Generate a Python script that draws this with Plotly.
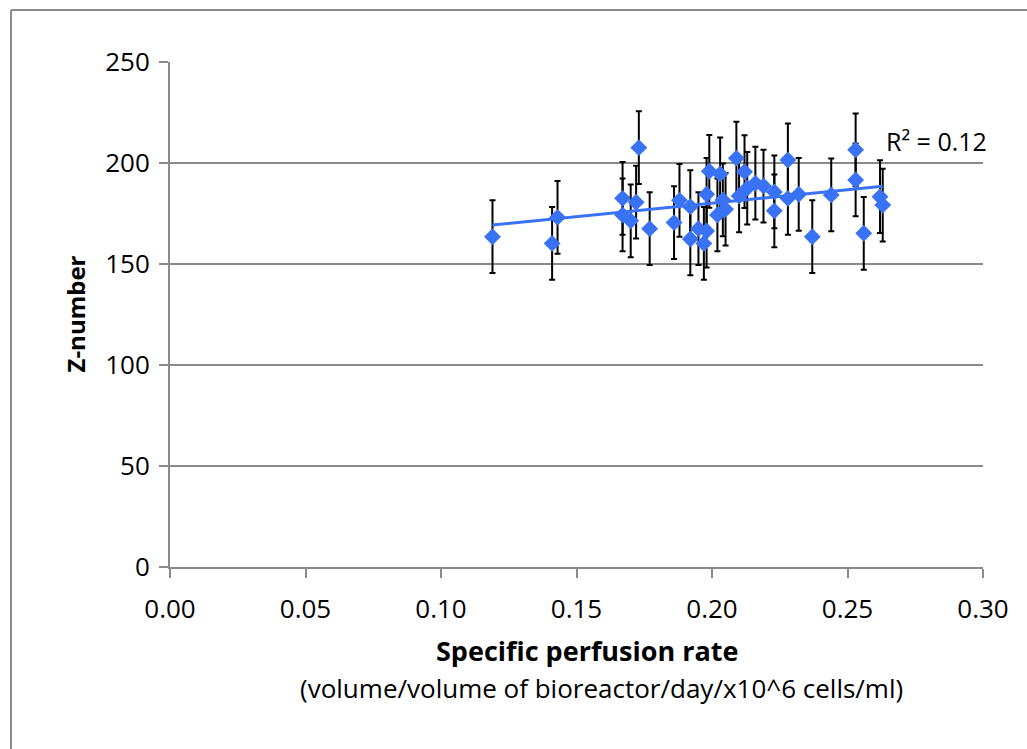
import numpy as np
import plotly.graph_objects as go

# Data
perfusion_rate = [0.119, 0.141, 0.143, 0.167, 0.167, 0.170, 0.173, 0.172, 0.177, 0.186,
                  0.188, 0.192, 0.192, 0.195, 0.197, 0.198, 0.199, 0.198, 0.202, 0.203,
                  0.204, 0.205, 0.209, 0.210, 0.212, 0.213, 0.216, 0.219, 0.223, 0.223,
                  0.228, 0.228, 0.232, 0.237, 0.244, 0.253, 0.253, 0.256, 0.262, 0.263]
z_number = [163.5, 160.2, 173.1, 182.5, 174.3, 171.4, 207.6, 180.6, 167.5, 170.5,
            181.5, 178.4, 162.4, 167.5, 160.2, 166.3, 195.9, 184.5, 174.3, 194.6,
            181.7, 177.1, 202.4, 183.7, 195.7, 187.5, 190.0, 188.6, 185.7, 176.3,
            182.5, 201.5, 184.5, 163.5, 184.2, 206.5, 191.6, 165.2, 183.3, 179.2]
z_error = [18] * len(z_number)

x_ticks = [0.00, 0.05, 0.10, 0.15, 0.20, 0.25, 0.30]
y_ticks = [0, 50, 100, 150, 200, 250]

FONT = "Open Sans"
BLUE = "rgb(58,114,246)"
GRID = "#8a8a8a"

x = np.array(perfusion_rate)
y = np.array(z_number)
slope, intercept = np.polyfit(x, y, 1)
tx = np.array([x.min(), x.max()])
ty = slope * tx + intercept

fig = go.Figure()
fig.add_trace(go.Scatter(
    x=perfusion_rate, y=z_number, mode="markers",
    marker=dict(symbol="diamond", size=13, color=BLUE),
    error_y=dict(type="data", array=z_error, visible=True, color="black",
                 thickness=2, width=3),
    showlegend=False, cliponaxis=False,
))
fig.add_trace(go.Scatter(
    x=tx, y=ty, mode="lines", line=dict(color=BLUE, width=3),
    showlegend=False, hoverinfo="skip",
))

fig.update_layout(
    width=1027, height=749, autosize=False,
    margin=dict(l=170, r=44, t=62, b=182),
    paper_bgcolor="white", plot_bgcolor="white",
    font=dict(family=FONT, size=24, color="black"),
    xaxis=dict(
        range=[0, 0.30], tickvals=x_ticks,
        ticktext=[f"{v:.2f}" for v in x_ticks],
        showgrid=False, zeroline=False,
        showline=True, linecolor=GRID, linewidth=2,
        ticks="outside", ticklen=9, tickwidth=2, tickcolor=GRID,
        tickfont=dict(family=FONT, size=26), ticklabelstandoff=9,
    ),
    yaxis=dict(
        range=[0, 250], tickvals=y_ticks,
        showgrid=True, gridcolor=GRID, gridwidth=2, zeroline=False,
        showline=True, linecolor=GRID, linewidth=2,
        ticks="outside", ticklen=9, tickwidth=2, tickcolor=GRID,
        tickfont=dict(family=FONT, size=26), ticklabelstandoff=4,
    ),
    shapes=[
        dict(type="line", xref="paper", yref="paper",
             x0=(11 - 170) / 813, x1=(11 - 170) / 813,
             y0=-182 / 505 - 0.1, y1=1 + 52 / 505,
             line=dict(color=GRID, width=2)),
        dict(type="line", xref="paper", yref="paper",
             x0=(11 - 170) / 813, x1=1.2,
             y0=1 + 52 / 505, y1=1 + 52 / 505,
             line=dict(color=GRID, width=2)),
    ],
    annotations=[
        dict(text="R² = 0.12", x=0.2635, y=211, xref="x", yref="y",
             xanchor="left", yanchor="middle",
             showarrow=False, font=dict(family=FONT, size=25)),
        dict(text="<b>Z-number</b>", xref="paper", yref="paper",
             x=(75 - 170) / 813, y=0.5, textangle=-90,
             xanchor="center", yanchor="middle",
             showarrow=False, font=dict(family=FONT, size=24)),
        dict(text="<b>Specific perfusion rate</b>", xref="paper", yref="paper",
             x=(587 - 170) / 813, y=-(650 - 567) / 505,
             xanchor="center", yanchor="middle",
             showarrow=False, font=dict(family=FONT, size=27)),
        dict(text="(volume/volume of bioreactor/day/x10^6 cells/ml)", xref="paper", yref="paper",
             x=(601 - 170) / 813, y=-(688 - 567) / 505,
             xanchor="center", yanchor="middle",
             showarrow=False, font=dict(family=FONT, size=26)),
    ],
)

fig.write_html("out.html")
